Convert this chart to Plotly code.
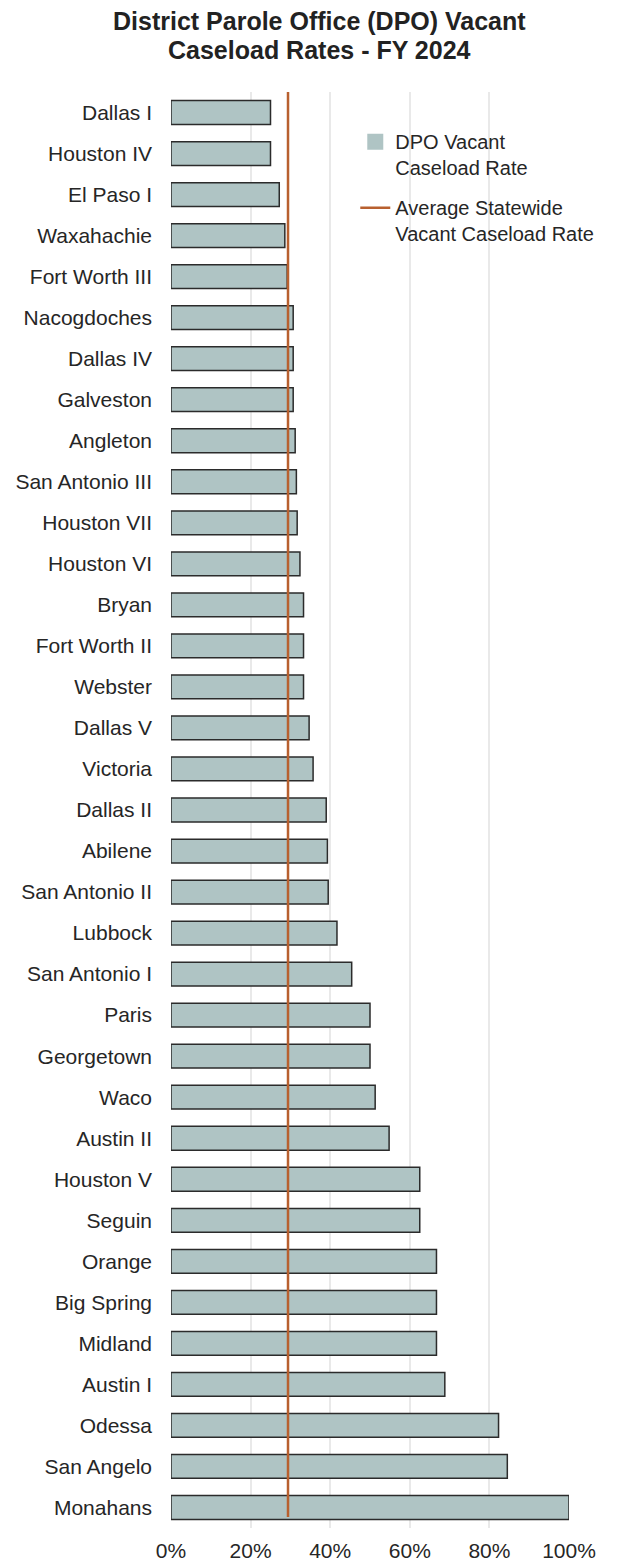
import plotly.graph_objects as go

districts = ["Dallas I", "Houston IV", "El Paso I", "Waxahachie", "Fort Worth III",
             "Nacogdoches", "Dallas IV", "Galveston", "Angleton", "San Antonio III",
             "Houston VII", "Houston VI", "Bryan", "Fort Worth II", "Webster",
             "Dallas V", "Victoria", "Dallas II", "Abilene", "San Antonio II",
             "Lubbock", "San Antonio I", "Paris", "Georgetown", "Waco",
             "Austin II", "Houston V", "Seguin", "Orange", "Big Spring",
             "Midland", "Austin I", "Odessa", "San Angelo", "Monahans"]
rates = [25.0, 25.0, 27.2, 28.6, 29.2,
         30.7, 30.7, 30.7, 31.2, 31.5,
         31.7, 32.4, 33.3, 33.3, 33.3,
         34.7, 35.7, 39.0, 39.3, 39.5,
         41.7, 45.4, 50.0, 50.0, 51.3,
         54.8, 62.5, 62.5, 66.7, 66.7,
         66.7, 68.8, 82.3, 84.5, 100.0]
avg_rate = 29.4
x_ticks = [0, 20, 40, 60, 80, 100]
title_lines = ["District Parole Office (DPO) Vacant", "Caseload Rates - FY 2024"]

FONT = "Liberation Sans, Arial, sans-serif"
BAR = "#afc4c4"
LINE = "#b8602f"

pos = list(range(len(districts)))

fig = go.Figure()
fig.add_trace(go.Bar(
    x=rates, y=pos, orientation="h", width=0.58,
    marker=dict(color=BAR, line=dict(color="#2b2b2b", width=1.5)),
    showlegend=False, hoverinfo="x+text", text=districts, textposition="none",
))
# legend entry for bars
fig.add_trace(go.Scatter(
    x=[None], y=[None], mode="markers", name="DPO Vacant<br>Caseload Rate",
    marker=dict(symbol="square", size=20, color=BAR), legendgroup="a",
))
fig.add_trace(go.Scatter(
    x=[avg_rate, avg_rate], y=[-0.55, len(districts) - 1 + 0.23],
    mode="lines", line=dict(color=LINE, width=2.5),
    name="Average Statewide<br>Vacant Caseload Rate", legendgroup="b",
    cliponaxis=False,
))

for txt, yy in zip(title_lines, [1.0491, 1.0289]):
    fig.add_annotation(text=f"<b>{txt}</b>", xref="paper", yref="paper",
                       x=0.374, y=yy, xanchor="center", yanchor="middle",
                       showarrow=False,
                       font=dict(family=FONT, size=25, color="#222222"))

fig.update_layout(
    width=619, height=1561,
    margin=dict(l=171, r=50, t=91.5, b=32.5),
    paper_bgcolor="white", plot_bgcolor="white",
    font=dict(family=FONT, size=21, color="#262626"),
    legend=dict(x=0.463, y=0.979, xanchor="left", yanchor="top",
                font=dict(family=FONT, size=20, color="#262626"),
                bgcolor="rgba(0,0,0,0)", valign="top", tracegroupgap=11,
                itemsizing="trace"),
    xaxis=dict(range=[0, 100], tickvals=x_ticks,
               ticktext=[f"{v}%" for v in x_ticks],
               showgrid=True, gridcolor="#e9e9e9", gridwidth=2,
               zeroline=False, showline=False, ticks="",
               ticklabelstandoff=8, automargin=False,
               tickfont=dict(size=21, color="#262626")),
    yaxis=dict(tickvals=pos, ticktext=districts, range=[len(districts) - 0.5, -0.5],
               showgrid=False, zeroline=False, showline=False, ticks="",
               ticklabelstandoff=18, automargin=False,
               tickfont=dict(size=21, color="#262626")),
    bargap=0.4,
)

fig.write_html("out.html", config={"displayModeBar": False},
               post_script="document.body.style.margin='0';document.body.style.padding='0';")
